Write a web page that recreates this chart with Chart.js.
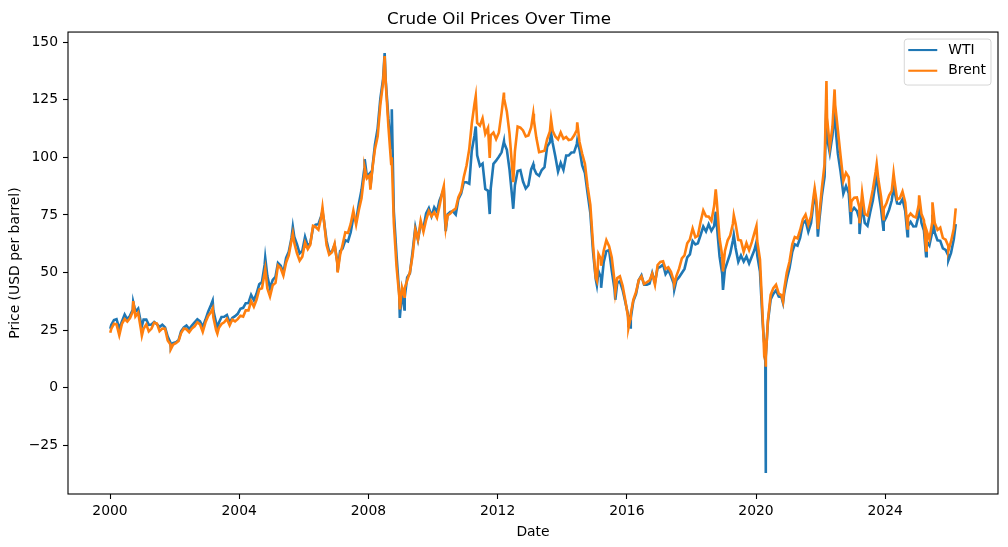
<!DOCTYPE html>
<html>
<head>
<meta charset="utf-8">
<title>Crude Oil Prices Over Time</title>
<script src="https://cdn.jsdelivr.net/npm/chart.js@4.4.1/dist/chart.umd.min.js"></script>
<style>
  html, body { margin: 0; padding: 0; background: #fff; }
  #wrap { width: 1008px; height: 547px; }
</style>
</head>
<body>
<div id="wrap"><canvas id="oilChart" width="1008" height="547"></canvas></div>
<script>
// "YYYY-MM" = monthly level (mid month), full dates = notable daily highs / lows
const dates = [
  "2000-01-04","2000-01","2000-02","2000-03","2000-04","2000-05","2000-06","2000-07","2000-08","2000-09","2000-09-20","2000-10","2000-11","2000-12","2000-12-27",
  "2001-01","2001-02","2001-03","2001-04","2001-05","2001-06","2001-07","2001-08","2001-09","2001-10","2001-11","2001-11-20","2001-12",
  "2002-01","2002-02","2002-03","2002-04","2002-05","2002-06","2002-07","2002-08","2002-09","2002-10","2002-11","2002-12",
  "2003-01","2003-02","2003-03-07","2003-03","2003-04","2003-04-29","2003-05","2003-06","2003-07","2003-08","2003-09","2003-10","2003-11","2003-12",
  "2004-01","2004-02","2004-03","2004-04","2004-05","2004-06","2004-07","2004-08","2004-09","2004-10","2004-10-22","2004-11","2004-12",
  "2005-01","2005-02","2005-03","2005-04","2005-05","2005-06","2005-07","2005-08","2005-08-30","2005-09","2005-10","2005-11","2005-12",
  "2006-01","2006-02","2006-03","2006-04","2006-05","2006-06","2006-07","2006-07-31","2006-08","2006-09","2006-10","2006-11","2006-12",
  "2007-01","2007-01-18","2007-02","2007-03","2007-04","2007-05","2007-06","2007-07","2007-08","2007-09","2007-10","2007-11","2007-11-20","2007-12",
  "2008-01","2008-01-23","2008-02","2008-03","2008-04","2008-05","2008-06","2008-07-03","2008-07","2008-08","2008-09","2008-09-22","2008-10","2008-11","2008-12","2008-12-22",
  "2009-01","2009-02-12","2009-02","2009-03","2009-04","2009-05","2009-06","2009-07","2009-08","2009-09","2009-10","2009-11","2009-12",
  "2010-01","2010-02","2010-03","2010-04","2010-05-03","2010-05","2010-05-25","2010-06","2010-07","2010-08","2010-09","2010-10","2010-11","2010-12",
  "2011-01","2011-02","2011-03","2011-04","2011-04-29","2011-05","2011-06","2011-07","2011-08","2011-09","2011-10-04","2011-10","2011-11","2011-12",
  "2012-01","2012-02","2012-03-13","2012-03","2012-04","2012-05","2012-06","2012-06-26","2012-07","2012-08","2012-09","2012-10","2012-11","2012-12",
  "2013-01","2013-02-08","2013-02","2013-03","2013-04","2013-05","2013-06","2013-07","2013-08","2013-08-28","2013-09","2013-10","2013-11","2013-12",
  "2014-01","2014-02","2014-03","2014-04","2014-05","2014-06","2014-06-20","2014-07","2014-08","2014-09","2014-10","2014-11","2014-12",
  "2015-01","2015-01-28","2015-02","2015-03","2015-03-17","2015-04","2015-05","2015-06","2015-07","2015-08","2015-08-24","2015-09","2015-10","2015-11","2015-12",
  "2016-01","2016-01-20","2016-02-11","2016-02","2016-03","2016-04","2016-05","2016-06","2016-07","2016-08","2016-09","2016-10","2016-11","2016-12",
  "2017-01","2017-02","2017-03","2017-04","2017-05","2017-06","2017-06-21","2017-07","2017-08","2017-09","2017-10","2017-11","2017-12",
  "2018-01","2018-02","2018-03","2018-04","2018-05","2018-06","2018-07","2018-08","2018-09","2018-10-03","2018-10","2018-11","2018-12","2018-12-24",
  "2019-01","2019-02","2019-03","2019-04","2019-04-25","2019-05","2019-06","2019-07","2019-08","2019-09","2019-10","2019-11","2019-12",
  "2020-01-06","2020-01","2020-02","2020-03","2020-04-01","2020-04","2020-04-20","2020-04-22","2020-05","2020-06","2020-07","2020-08","2020-09","2020-10","2020-11-02","2020-11","2020-12",
  "2021-01","2021-02","2021-03","2021-04","2021-05","2021-06","2021-07","2021-08","2021-09","2021-10","2021-10-26","2021-11","2021-12-01","2021-12",
  "2022-01","2022-02","2022-03-08","2022-03","2022-04","2022-05","2022-06-08","2022-06","2022-07","2022-08","2022-09","2022-10","2022-11","2022-12-09","2022-12",
  "2023-01","2023-02","2023-03","2023-03-17","2023-04","2023-05","2023-06","2023-07","2023-08","2023-09","2023-09-27","2023-10","2023-11","2023-12-12","2023-12",
  "2024-01","2024-02","2024-03","2024-04-05","2024-04","2024-05","2024-06","2024-07","2024-08","2024-09-10","2024-09","2024-10","2024-11","2024-12",
  "2025-01","2025-01-20","2025-02","2025-03","2025-04-08","2025-04","2025-05","2025-06","2025-06-19","2025-07","2025-08","2025-09","2025-10","2025-11","2025-12","2025-12-16",
  "2026-01","2026-02","2026-03-09"
];

const wti = [
  25.6, 27.3, 29.4, 29.8, 25.7, 28.8, 31.8, 29.7, 31.3, 33.9, 37.2, 33.1, 34.4, 28.4, 26.8,
  29.6, 29.6, 27.3, 27.5, 28.6, 27.6, 26.4, 27.4, 26.2, 22.2, 19.6, 17.5, 19.4,
  19.7, 20.7, 24.5, 26.2, 27.0, 25.5, 27.0, 28.4, 29.7, 28.8, 26.4, 29.5,
  33.0, 35.8, 37.8, 33.5, 28.2, 25.6, 28.1, 30.7, 30.8, 31.6, 28.3, 30.3, 31.1, 32.1,
  34.3, 34.7, 36.7, 36.8, 40.3, 38.0, 40.8, 44.9, 45.9, 53.3, 56.4, 48.5, 43.2,
  46.8, 48.2, 54.2, 53.0, 49.8, 56.4, 59.0, 65.0, 69.8, 65.6, 62.3, 58.3, 59.4,
  65.5, 61.6, 62.7, 69.4, 70.8, 71.0, 74.4, 76.5, 73.0, 63.8, 58.9, 59.1, 62.0,
  54.5, 50.5, 59.3, 60.4, 64.0, 63.5, 67.5, 74.1, 72.4, 79.9, 85.8, 94.8, 99.2, 91.7,
  93.0, 87.0, 95.4, 105.5, 112.6, 125.4, 133.9, 145.3, 133.4, 116.7, 104.1, 120.9, 76.6, 57.3, 41.1, 30.3,
  41.7, 34.0, 39.1, 47.9, 49.7, 59.0, 69.6, 64.2, 71.1, 69.4, 75.7, 78.0, 74.5,
  78.3, 76.4, 81.2, 84.3, 86.2, 73.7, 68.0, 75.3, 76.3, 76.6, 75.2, 81.9, 84.3, 89.2,
  89.2, 88.6, 102.9, 109.5, 113.4, 100.9, 96.3, 97.3, 86.3, 85.5, 75.4, 86.3, 97.2, 98.6,
  100.3, 102.2, 107.0, 106.2, 103.3, 94.7, 82.3, 77.7, 87.9, 94.1, 94.5, 89.5, 86.5, 87.9,
  94.8, 97.0, 95.3, 92.9, 92.0, 94.5, 95.8, 104.7, 106.6, 110.6, 106.3, 100.5, 93.9, 97.6,
  94.6, 100.8, 100.8, 102.1, 102.2, 105.8, 107.3, 103.6, 96.5, 93.2, 84.4, 75.8, 59.3,
  47.2, 44.5, 50.6, 47.8, 43.4, 54.5, 59.3, 59.8, 50.9, 42.9, 38.2, 45.5, 46.2, 42.4, 37.2,
  31.7, 26.7, 26.2, 30.3, 37.6, 40.8, 46.7, 48.8, 44.7, 44.7, 45.2, 49.8, 45.7, 52.0,
  52.5, 53.5, 49.3, 51.1, 48.5, 45.2, 42.5, 46.6, 48.0, 49.8, 51.6, 56.6, 57.9,
  63.7, 62.2, 62.7, 66.3, 70.0, 67.9, 71.0, 68.1, 70.2, 76.4, 70.8, 57.0, 49.5, 42.5,
  51.4, 55.0, 58.2, 63.9, 66.3, 60.8, 54.7, 57.4, 54.8, 57.0, 54.0, 57.0, 59.9,
  63.3, 57.5, 50.5, 29.2, 20.3, 16.6, -37.0, 13.8, 28.6, 38.3, 40.7, 42.3, 39.6, 39.4, 36.8, 40.9, 47.0,
  52.0, 59.0, 62.3, 61.7, 65.2, 71.4, 72.5, 67.7, 71.5, 81.2, 84.6, 78.7, 65.6, 71.7,
  83.2, 91.6, 123.7, 108.5, 101.8, 109.6, 122.1, 114.8, 101.6, 93.7, 84.3, 87.6, 84.4, 71.0, 76.4,
  78.1, 76.8, 73.3, 66.7, 79.5, 71.6, 70.3, 76.1, 81.4, 89.4, 93.7, 85.6, 77.7, 68.6, 71.9,
  74.2, 77.3, 81.3, 86.9, 85.4, 80.0, 79.8, 81.8, 76.7, 65.8, 70.2, 72.0, 70.0, 70.1,
  75.1, 79.5, 71.5, 68.2, 57.1, 63.5, 61.8, 67.3, 75.1, 67.3, 64.0, 63.8, 60.5, 59.8, 57.5, 55.3,
  58.5, 64.5, 71.0
];

const brent = [
  23.9, 25.5, 27.8, 27.5, 22.8, 27.7, 29.8, 28.7, 30.2, 33.1, 37.6, 31.0, 32.6, 25.7, 22.6,
  25.6, 27.5, 24.5, 25.7, 28.3, 27.9, 24.6, 25.7, 25.6, 20.5, 18.8, 16.8, 18.7,
  19.4, 20.3, 23.7, 25.7, 25.4, 24.1, 25.7, 26.7, 28.4, 27.5, 24.3, 28.3,
  31.2, 32.8, 34.5, 30.6, 25.0, 23.5, 25.9, 27.7, 28.4, 29.9, 27.1, 29.6, 28.8, 29.8,
  31.3, 30.9, 33.6, 33.6, 37.6, 35.2, 38.2, 42.7, 43.2, 49.8, 51.5, 43.1, 39.6,
  44.5, 45.5, 53.1, 51.9, 48.7, 54.4, 57.5, 64.0, 67.0, 62.9, 58.5, 55.2, 56.9,
  63.0, 60.2, 62.1, 70.3, 69.8, 68.6, 73.7, 78.3, 73.2, 62.0, 57.8, 58.8, 62.5,
  53.7, 50.0, 57.6, 62.1, 67.5, 67.2, 71.1, 76.9, 70.8, 77.2, 82.3, 92.4, 95.5, 90.9,
  92.2, 86.0, 95.0, 103.6, 109.1, 122.8, 132.3, 144.0, 132.7, 113.2, 97.2, 100.0, 71.6, 52.5, 40.0, 34.0,
  43.4, 39.5, 43.3, 46.5, 50.2, 57.3, 68.6, 64.4, 72.5, 67.7, 72.8, 76.7, 74.5,
  76.2, 73.8, 78.8, 84.8, 87.5, 76.0, 69.5, 74.8, 75.6, 77.0, 77.8, 82.7, 85.3, 91.5,
  96.5, 103.7, 114.6, 123.3, 126.6, 115.0, 113.8, 117.0, 110.2, 112.8, 99.8, 109.6, 110.8, 107.9,
  110.7, 119.3, 128.1, 125.5, 119.8, 110.3, 95.2, 89.2, 102.6, 113.4, 112.9, 111.7, 109.1, 109.5,
  113.0, 119.0, 116.1, 108.5, 102.3, 102.6, 102.9, 107.9, 111.3, 116.6, 111.6, 109.1, 107.8, 110.8,
  108.1, 108.9, 107.5, 107.8, 109.5, 111.8, 115.2, 106.8, 101.6, 97.1, 87.4, 79.4, 62.3,
  47.8, 46.5, 58.1, 55.9, 53.0, 59.5, 64.1, 61.5, 56.6, 46.5, 41.6, 47.6, 48.4, 44.3, 38.0,
  30.7, 26.0, 30.0, 32.2, 38.2, 41.6, 46.7, 48.3, 45.0, 45.8, 46.6, 49.5, 44.7, 53.3,
  54.6, 54.9, 51.6, 52.3, 50.3, 46.4, 44.8, 48.5, 51.7, 56.2, 57.5, 62.7, 64.4,
  69.1, 65.3, 66.0, 72.1, 77.0, 74.4, 74.3, 72.5, 78.9, 86.1, 81.0, 64.8, 57.4, 50.5,
  59.4, 64.0, 66.1, 71.2, 74.9, 71.3, 64.2, 63.9, 59.0, 62.8, 59.7, 63.2, 67.3,
  70.2, 63.7, 55.7, 32.0, 16.0, 18.4, 9.1, 13.0, 29.4, 40.3, 43.2, 44.7, 40.9, 40.2, 37.5, 42.7, 50.0,
  54.8, 62.3, 65.4, 64.8, 68.5, 73.2, 75.2, 70.8, 74.5, 83.5, 86.5, 81.1, 68.9, 74.2,
  86.5, 97.1, 133.2, 117.3, 104.6, 113.3, 129.5, 122.7, 111.9, 100.5, 89.8, 93.3, 91.4, 76.3, 80.9,
  82.5, 82.6, 78.4, 71.4, 84.6, 75.5, 74.8, 80.1, 86.2, 93.7, 97.1, 90.6, 82.9, 73.2, 77.6,
  80.1, 83.5, 85.4, 93.1, 89.9, 81.8, 82.3, 85.2, 80.4, 69.2, 74.0, 75.6, 74.4, 73.9,
  79.3, 83.5, 75.4, 72.7, 59.6, 68.1, 64.5, 71.4, 80.5, 71.5, 68.5, 69.5, 65.0, 64.3, 61.5, 59.5,
  63.5, 69.0, 77.9
];

const xTicks = [2000, 2004, 2008, 2012, 2016, 2020, 2024];
const yTicks = [-25, 0, 25, 50, 75, 100, 125, 150];

if (wti.length !== dates.length || brent.length !== dates.length) {
  throw new Error("length mismatch " + dates.length + " " + wti.length + " " + brent.length);
}

// date string -> decimal year
function toYear(s) {
  const p = s.split("-").map(Number);
  const y = p[0], m = p[1] - 1, d = p[2] || 15;
  const start = Date.UTC(y, 0, 1), end = Date.UTC(y + 1, 0, 1);
  return y + (Date.UTC(y, m, d) - start) / (end - start);
}

function series(values) {
  return dates.map((d, i) => ({ x: toYear(d), y: values[i] })).sort((a, b) => a.x - b.x);
}

const wtiPts = series(wti);
const brentPts = series(brent);

// matplotlib style autoscale with 5% margins
const allX = wtiPts.map(p => p.x);
const allY = wti.concat(brent);
const xLo = Math.min(...allX), xHi = Math.max(...allX);
const yLo = Math.min(...allY), yHi = Math.max(...allY);
const xPad = (xHi - xLo) * 0.05, yPad = (yHi - yLo) * 0.05;

const FONT = "'DejaVu Sans', sans-serif";
const tickFont = { family: FONT, size: 13.9 };

const frame = {
  id: "frame",
  afterDatasetsDraw(chart) {
    const { ctx, chartArea: a } = chart;
    ctx.save();
    ctx.strokeStyle = "#000";
    ctx.lineWidth = 1.1;
    ctx.strokeRect(a.left, a.top, a.right - a.left, a.bottom - a.top);
    ctx.restore();
  }
};

const boxLegend = {
  id: "boxLegend",
  afterDraw(chart) {
    const { ctx, chartArea: a } = chart;
    const items = chart.data.datasets;
    ctx.save();
    ctx.font = "13.9px " + FONT;
    const textW = Math.max(...items.map(d => ctx.measureText(d.label).width));
    const w = 44 + textW + 5;
    const h = 46;
    const x0 = a.right - 7 - w;
    const y0 = a.top + 7;
    ctx.beginPath();
    ctx.roundRect(x0, y0, w, h, 3);
    ctx.fillStyle = "rgba(255,255,255,0.8)";
    ctx.fill();
    ctx.strokeStyle = "rgba(204,204,204,0.8)";
    ctx.lineWidth = 1;
    ctx.stroke();
    items.forEach((d, i) => {
      const y = y0 + 11 + i * 20.7;
      ctx.strokeStyle = d.borderColor;
      ctx.lineWidth = 2.1;
      ctx.beginPath();
      ctx.moveTo(x0 + 4, y);
      ctx.lineTo(x0 + 33, y);
      ctx.stroke();
      ctx.fillStyle = "#000";
      ctx.textBaseline = "middle";
      ctx.fillText(d.label, x0 + 44, y);
    });
    ctx.restore();
  }
};

new Chart(document.getElementById("oilChart"), {
  type: "line",
  data: {
    datasets: [
      { label: "WTI", data: wtiPts, borderColor: "#1f77b4", borderWidth: 2.6,
        pointRadius: 0, tension: 0, fill: false, order: 1 },
      { label: "Brent", data: brentPts, borderColor: "#ff7f0e", borderWidth: 2.6,
        pointRadius: 0, tension: 0, fill: false, order: 0 }
    ]
  },
  options: {
    responsive: false,
    animation: false,
    layout: { padding: { left: 0, right: 10, top: 0, bottom: 0 } },
    plugins: {
      legend: { display: false },
      tooltip: { enabled: false },
      title: {
        display: true,
        text: "Crude Oil Prices Over Time",
        color: "#000",
        font: { family: FONT, size: 16.7, weight: "normal" },
        padding: { top: 10, bottom: 2 }
      }
    },
    scales: {
      x: {
        type: "linear",
        min: xLo - xPad,
        max: xHi + xPad,
        afterBuildTicks: s => { s.ticks = xTicks.map(v => ({ value: v })); },
        afterFit: s => { s.height = 53; },
        grid: { drawOnChartArea: false, tickLength: 5, tickColor: "#000", tickWidth: 1.1 },
        border: { display: false },
        ticks: { color: "#000", font: tickFont, padding: 4, maxRotation: 0,
                 callback: v => String(v) },
        title: { display: true, text: "Date", color: "#000", font: tickFont,
                 padding: { top: 0, bottom: 6 } }
      },
      y: {
        type: "linear",
        min: yLo - yPad,
        max: yHi + yPad,
        afterBuildTicks: s => { s.ticks = yTicks.map(v => ({ value: v })); },
        afterFit: s => { s.width = 68; },
        grid: { drawOnChartArea: false, tickLength: 5, tickColor: "#000", tickWidth: 1.1 },
        border: { display: false },
        ticks: { color: "#000", font: tickFont, padding: 5,
                 callback: v => (v < 0 ? "\u2212" + Math.abs(v) : String(v)) },
        title: { display: true, text: "Price (USD per barrel)", color: "#000", font: tickFont,
                 padding: { top: 7, bottom: 0 } }
      }
    }
  },
  plugins: [frame, boxLegend]
});
</script>
</body>
</html>
